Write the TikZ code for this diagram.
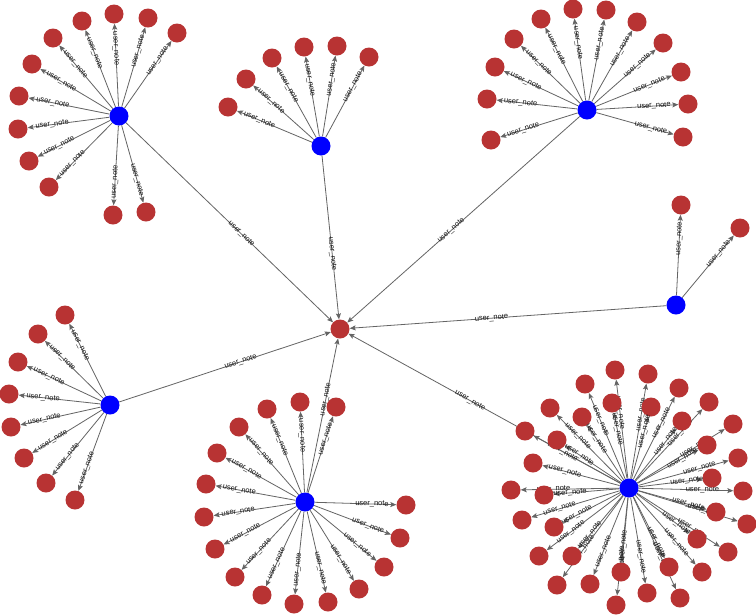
\documentclass[tikz,border=0pt]{standalone}
\usepackage{fontspec}
\setmainfont{Liberation Sans}
\usetikzlibrary{arrows.meta,calc}
\pgfdeclarelayer{back}
\pgfdeclarelayer{bg}
\pgfsetlayers{back,bg,main}
\definecolor{leafred}{RGB}{184,51,51}
\definecolor{edgegray}{RGB}{100,100,100}
\definecolor{lblgray}{RGB}{20,20,20}
\tikzset{
  leaf/.style={circle,fill=leafred,minimum size=19pt,inner sep=0pt},
  hub/.style={circle,fill=blue,minimum size=19pt,inner sep=0pt},
  edge/.style={draw=edgegray,line width=0.8pt,-{Stealth[length=6pt,width=5pt,inset=1.2pt]}},
  lbl/.style={font=\fontsize{7.5}{8}\selectfont,text=lblgray,inner sep=0pt}
}
\newcommand\uedge[2]{%
  \begin{pgfonlayer}{bg}\draw[edge] (#1) -- (#2);\end{pgfonlayer}
  \path ($(#1)!0.5!(#2)$) -- ($(#1)!0.5!(#2)!33pt!(#2)$) node[midway,sloped,lbl]{user\_note};}
\begin{document}
\begin{tikzpicture}[x=1pt,y=-1pt]
\begin{pgfonlayer}{back}
\fill[white] (0,0) rectangle (756,614);
\end{pgfonlayer}
\useasboundingbox (0,0) rectangle (756,614);
% center and hubs
\node[leaf] (X) at (340,329) {};
\node[hub] (A) at (119,116) {};
\node[hub] (B) at (321,146) {};
\node[hub] (C) at (587,110) {};
\node[hub] (D) at (676,305) {};
\node[hub] (E) at (110,405) {};
\node[hub] (F) at (305,502) {};
\node[hub] (G) at (629,488) {};
\foreach \h in {A,B,C,D,E,F,G}{\uedge{\h}{X}}
% hub A
\foreach \x/\y [count=\i] in {82/21,114/14,148/18,177/33,53/38,32/64,19/96,18/129,29/161,49/187,113/215,146/212}{
  \node[leaf] (A\i) at (\x,\y) {};
  \uedge{A}{A\i}
}
% hub B
\foreach \x/\y [count=\i] in {228/107,246/79,272/58,304/47,337/46,369/57}{
  \node[leaf] (B\i) at (\x,\y) {};
  \uedge{B}{B\i}
}
% hub C
\foreach \x/\y [count=\i] in {541/19,573/9,606/10,637/22,663/43,681/72,688/104,683/137,514/39,495/67,487/99,491/140}{
  \node[leaf] (C\i) at (\x,\y) {};
  \uedge{C}{C\i}
}
% hub D
\foreach \x/\y [count=\i] in {681/205,740/228}{
  \node[leaf] (D\i) at (\x,\y) {};
  \uedge{D}{D\i}
}
% hub E
\foreach \x/\y [count=\i] in {65/315,38/334,18/362,9/394,11/427,24/458,46/483,75/500}{
  \node[leaf] (E\i) at (\x,\y) {};
  \uedge{E}{E\i}
}
% hub F
\foreach \x/\y [count=\i] in {267/409,300/402,336/407,239/427,217/453,206/484,204/517,215/549,235/577,262/595,294/604,328/602,359/589,384/567,400/538,406/505}{
  \node[leaf] (F\i) at (\x,\y) {};
  \uedge{F}{F\i}
}
% hub G
\foreach \x/\y [count=\i] in {615/370,648/374,679/388,709/402,733/424,738/458,743/491,747/524,728/552,702/572,680/598,647/593,616/605,590/584,557/585,539/556,522/520,511/490,533/463,525/431,550/408,585/384,612/403,651/407,682/421,707/445,712/478,716/512,697/539,669/567,621/572,572/556,554/527,544/495,557/440,582/417}{
  \node[leaf] (G\i) at (\x,\y) {};
  \uedge{G}{G\i}
}
\end{tikzpicture}
\end{document}
